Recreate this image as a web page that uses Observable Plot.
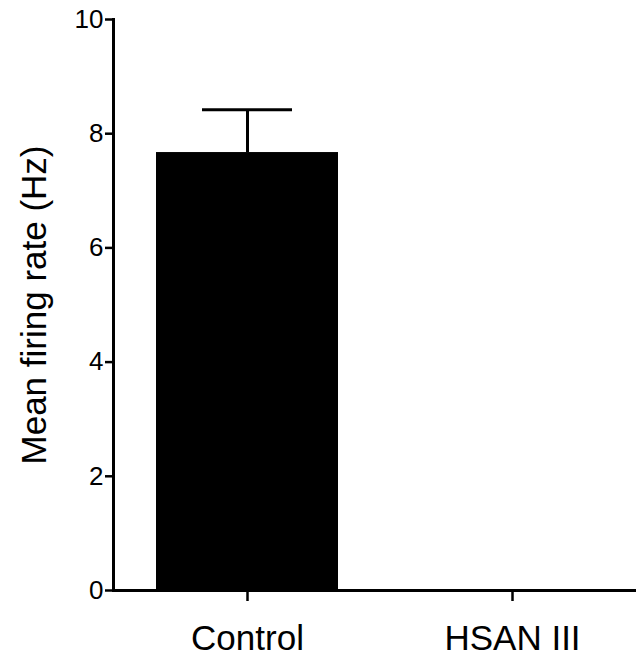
<!DOCTYPE html>
<html>
<head>
<meta charset="utf-8">
<script src="https://cdn.jsdelivr.net/npm/d3@7"></script>
<script src="https://cdn.jsdelivr.net/npm/@observablehq/plot@0.6"></script>
<style>
  html, body { margin: 0; padding: 0; background: #fff; }
  svg { display: block; }
</style>
</head>
<body>
<div id="chart"></div>
<script>
const categories = ["Control", "HSAN III"];
const means = [7.67, 0];
const sems = [0.75, 0];
const yTicks = [0, 2, 4, 6, 8, 10];
const yTitle = "Mean firing rate (Hz)";

const data = categories.map((c, i) => ({cat: c, mean: means[i], sem: sems[i], top: means[i] + sems[i]}));
const errData = data.filter(d => d.sem > 0);

const font = "'Liberation Sans', Arial, Helvetica, sans-serif";

const chart = Plot.plot({
  width: 636,
  height: 661,
  marginLeft: 113,
  marginRight: 0,
  marginTop: 19,
  marginBottom: 71,
  style: {fontFamily: font, background: "#fff", color: "#000"},
  x: {domain: categories, range: [113, 646], paddingInner: 0.313, paddingOuter: 0.162},
  y: {domain: [0, 10]},
  marks: [
    Plot.barY(data, {x: "cat", y: "mean", fill: "#000"}),
    Plot.ruleX(errData, {x: "cat", y1: "mean", y2: "top", stroke: "#000", strokeWidth: 3}),
    Plot.tickY(errData, {x: "cat", y: "top", stroke: "#000", strokeWidth: 3, insetLeft: 46, insetRight: 46}),
    Plot.frame({anchor: "left", stroke: "#000", strokeWidth: 3}),
    Plot.ruleY([0], {stroke: "#000", strokeWidth: 3}),
    Plot.axisY({ticks: yTicks, tickSize: 8, text: null, label: null, strokeWidth: 2.5}),
    Plot.text(yTicks, {y: d => d, text: d => String(d), frameAnchor: "left", textAnchor: "end", dx: -10, fontSize: 26, fill: "#000"}),
    Plot.axisX({tickSize: 11, tickPadding: 24, fontSize: 35, label: null, strokeWidth: 2.5}),
    Plot.text([yTitle], {frameAnchor: "left", rotate: -90, textAnchor: "middle", dx: -79, fontSize: 35, fill: "#000"})
  ]
});
document.getElementById("chart").appendChild(chart);
</script>
</body>
</html>
